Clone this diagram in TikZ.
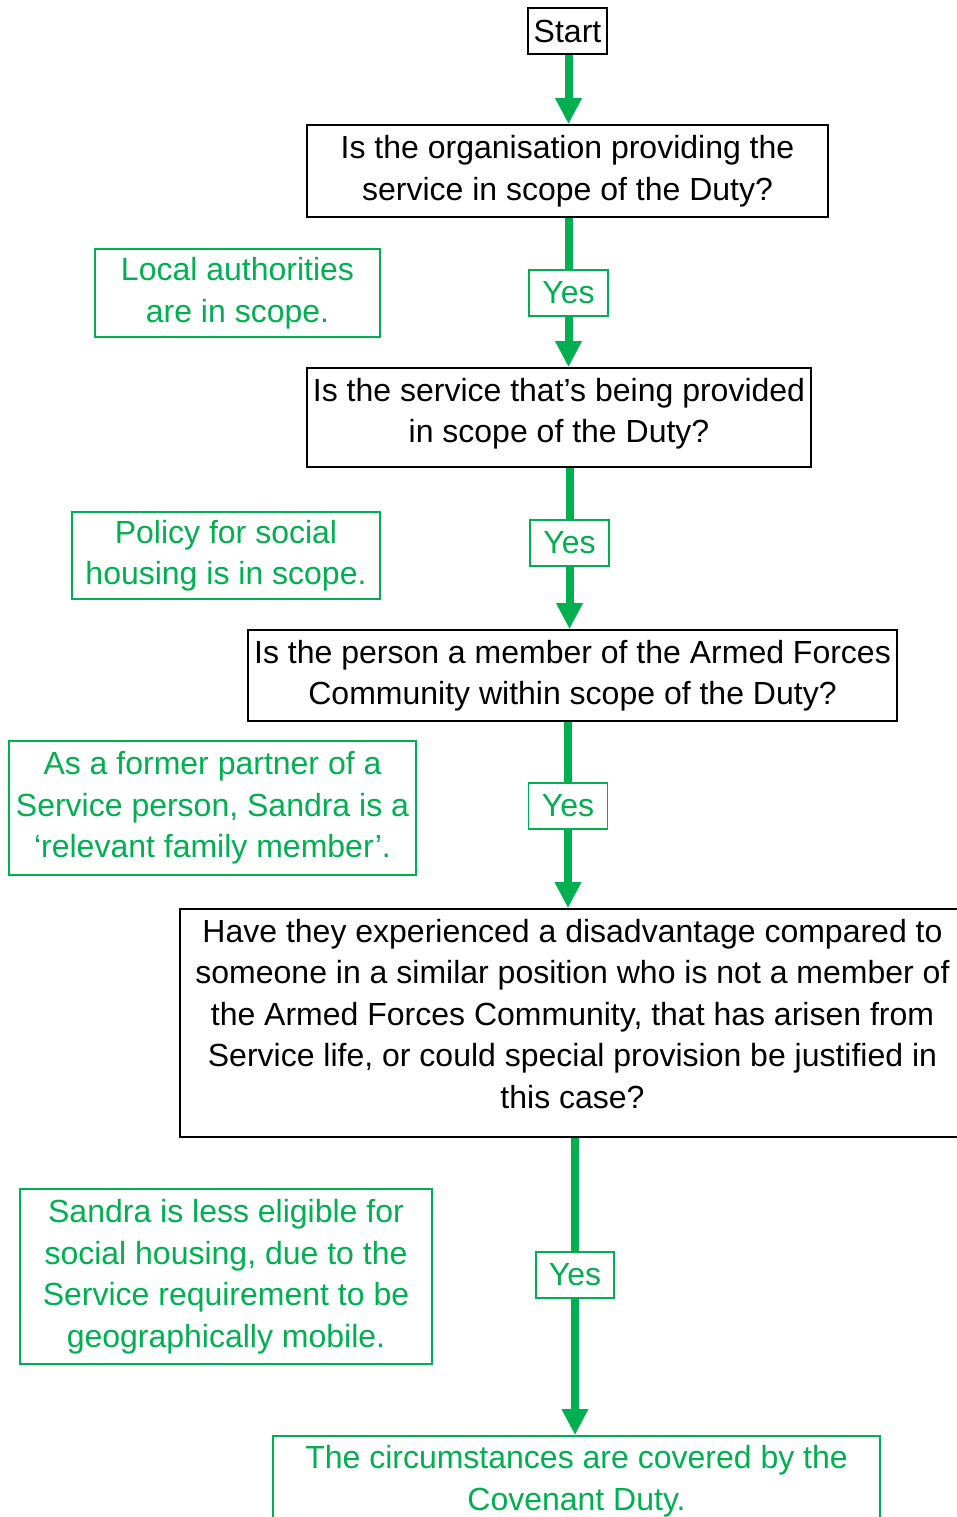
\documentclass[tikz,border=0pt]{standalone}
\usepackage{fontspec}
\setmainfont{Liberation Sans}
\usetikzlibrary{arrows.meta}
\definecolor{grn}{RGB}{0,176,80}
\begin{document}
\begin{tikzpicture}[x=1pt,y=-1pt,
  txt/.style={font=\fontsize{32}{41.5}\selectfont, align=center, inner sep=0pt},
  qbox/.style={txt, draw=black, line width=1.8pt},
  gbox/.style={txt, draw=grn, line width=1.8pt, text=grn},
  yesbox/.style={gbox, minimum width=79pt, minimum height=46pt},
  flow/.style={draw=grn, line width=8pt},
  flowarrow/.style={flow, -{Triangle[width=25pt,length=26pt]}}]
\useasboundingbox (0,0) rectangle (957,1517);
\begin{scope}
\clip (0,0) rectangle (957,1517);
\node[qbox, minimum width=79pt, minimum height=46pt] (start) at (567.5,31) {Start};
\node[qbox, minimum width=521pt, minimum height=92pt] (q1) at (567.5,171)
  {Is the organisation providing the\\service in scope of the Duty?};
\node[gbox, minimum width=285pt, minimum height=88pt] (la) at (237.5,293)
  {Local authorities\\are in scope.};
\node[yesbox] (yes1) at (568.5,293) {Yes};
\node[qbox, minimum width=504pt, minimum height=99pt] (q2) at (559,417.5) {};
\node[txt] (q2text) at (559,413.5)
  {Is the service that’s being provided\\in scope of the Duty?};
\node[gbox, minimum width=308pt, minimum height=87pt] (policy) at (226,555.5)
  {Policy for social\\housing is in scope.};
\node[yesbox] (yes2) at (569.5,543) {Yes};
\node[qbox, minimum width=649pt, minimum height=91pt] (q3) at (572.5,675.5)
  {Is the person a member of the Armed Forces\\Community within scope of the Duty?};
\node[gbox, minimum width=407pt, minimum height=134pt] (former) at (212.5,808)
  {As a former partner of a\\Service person, Sandra is a\\‘relevant family member’.};
\node[yesbox] (yes3) at (568,806) {Yes};
\node[qbox, minimum width=785pt, minimum height=228pt] (q4) at (572.5,1023) {};
\node[txt] (q4text) at (572.5,1014)
  {Have they experienced a disadvantage compared to\\someone in a similar position who is not a member of\\the Armed Forces Community, that has arisen from\\Service life, or could special provision be justified in\\this case?};
\node[gbox, minimum width=412pt, minimum height=175pt] (sandra) at (226,1276.5)
  {Sandra is less eligible for\\social housing, due to the\\Service requirement to be\\geographically mobile.};
\node[yesbox, minimum width=78pt] (yes4) at (575,1275) {Yes};
\node[gbox, minimum width=607pt, minimum height=92pt] (final) at (576.5,1482) {};
\node[txt, text=grn] (finaltext) at (576.5,1481)
  {The circumstances are covered by the\\Covenant Duty.};
\draw[flowarrow] (start.south -| yes1.center) -- (q1.north -| yes1.center);
\draw[flow] (q1.south -| yes1.center) -- (yes1.north);
\draw[flowarrow] (yes1.south) -- (q2.north -| yes1.center);
\draw[flow] (q2.south -| yes2.center) -- (yes2.north);
\draw[flowarrow] (yes2.south) -- (q3.north -| yes2.center);
\draw[flow] (q3.south -| yes3.center) -- (yes3.north);
\draw[flowarrow] (yes3.south) -- (q4.north -| yes3.center);
\draw[flow] (q4.south -| yes4.center) -- (yes4.north);
\draw[flowarrow] (yes4.south) -- (final.north -| yes4.center);
\end{scope}
\end{tikzpicture}
\end{document}
